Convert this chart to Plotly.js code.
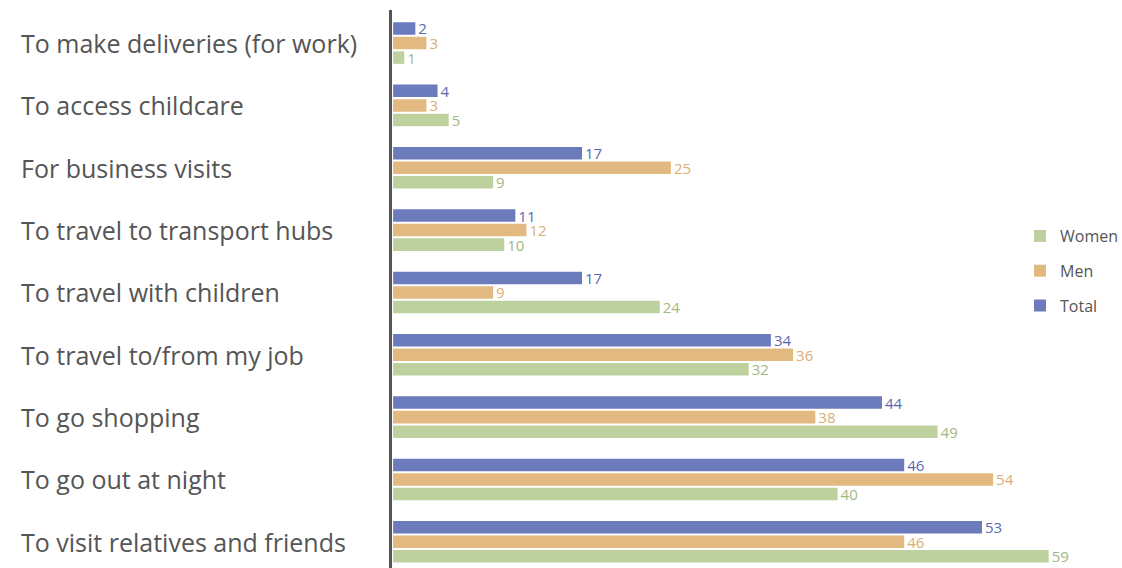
<!DOCTYPE html>
<html>
<head>
<meta charset="utf-8">
<script src="https://cdn.plot.ly/plotly-3.0.1.min.js"></script>
<style>html,body{margin:0;padding:0;background:#fff;}#chart{width:1122px;height:568px;}</style>
</head>
<body>
<div id="chart"></div>
<script>
// categories listed bottom-to-top
const categories = [
  "To visit relatives and friends",
  "To go out at night",
  "To go shopping",
  "To travel to/from my job",
  "To travel with children",
  "To travel to transport hubs",
  "For business visits",
  "To access childcare",
  "To make deliveries (for work)"
];
const women = [59, 40, 49, 32, 24, 10, 9, 5, 1];
const men   = [46, 54, 38, 36, 9, 12, 25, 3, 3];
const total = [53, 46, 44, 34, 17, 11, 17, 4, 2];
const seriesNames = ["Women", "Men", "Total"];

const colors = {Women: "#bdd19e", Men: "#e1b981", Total: "#6c7bbb"};
const textColors = {Women: "#9fb87f", Men: "#d9ae78", Total: "#5a68b0"};

const fontFam = "'Open Sans', 'Noto Sans', sans-serif";
const seriesData = [women, men, total];
const traces = seriesNames.map((name, i) => ({
  type: "bar",
  orientation: "h",
  name: name,
  legendgroup: name,
  y: categories,
  x: seriesData[i],
  text: seriesData[i].map(String),
  textposition: "outside",
  constraintext: "none",
  cliponaxis: false,
  textfont: {family: fontFam, size: 15, color: textColors[name]},
  marker: {color: colors[name]},
  hoverinfo: "x+name"
}));

const ml = 392, mr = 10;
const plotW = 1122 - ml - mr;
const annotations = categories.map(c => ({
  text: c,
  xref: "paper", yref: "y",
  x: -(ml - 19) / plotW, y: c,
  xanchor: "left", yanchor: "middle",
  showarrow: false,
  font: {family: fontFam, size: 25, color: "#555555"}
}));

const layout = {
  width: 1122, height: 568,
  margin: {l: ml, r: mr, t: 10, b: 0, autoexpand: false},
  paper_bgcolor: "#ffffff",
  plot_bgcolor: "#ffffff",
  barmode: "group",
  bargap: 0.3,
  bargroupgap: 0.14,
  showlegend: true,
  legend: {
    xref: "container", yref: "container",
    x: 1020 / 1122, xanchor: "left",
    y: 1 - 271 / 568, yanchor: "middle",
    font: {family: fontFam, size: 16, color: "#555555"},
    bgcolor: "rgba(0,0,0,0)",
    itemwidth: 30,
    tracegroupgap: 11
  },
  xaxis: {
    range: [-0.1, 64.7],
    showgrid: false, zeroline: false, showticklabels: false, showline: false, ticks: ""
  },
  yaxis: {
    type: "category",
    range: [-0.42, 8.53],
    showgrid: false, zeroline: false, showticklabels: false, ticks: "",
    showline: true, linecolor: "#555555", linewidth: 3
  },
  annotations: annotations
};

Plotly.newPlot("chart", traces, layout, {displayModeBar: false, staticPlot: true});
</script>
</body>
</html>
